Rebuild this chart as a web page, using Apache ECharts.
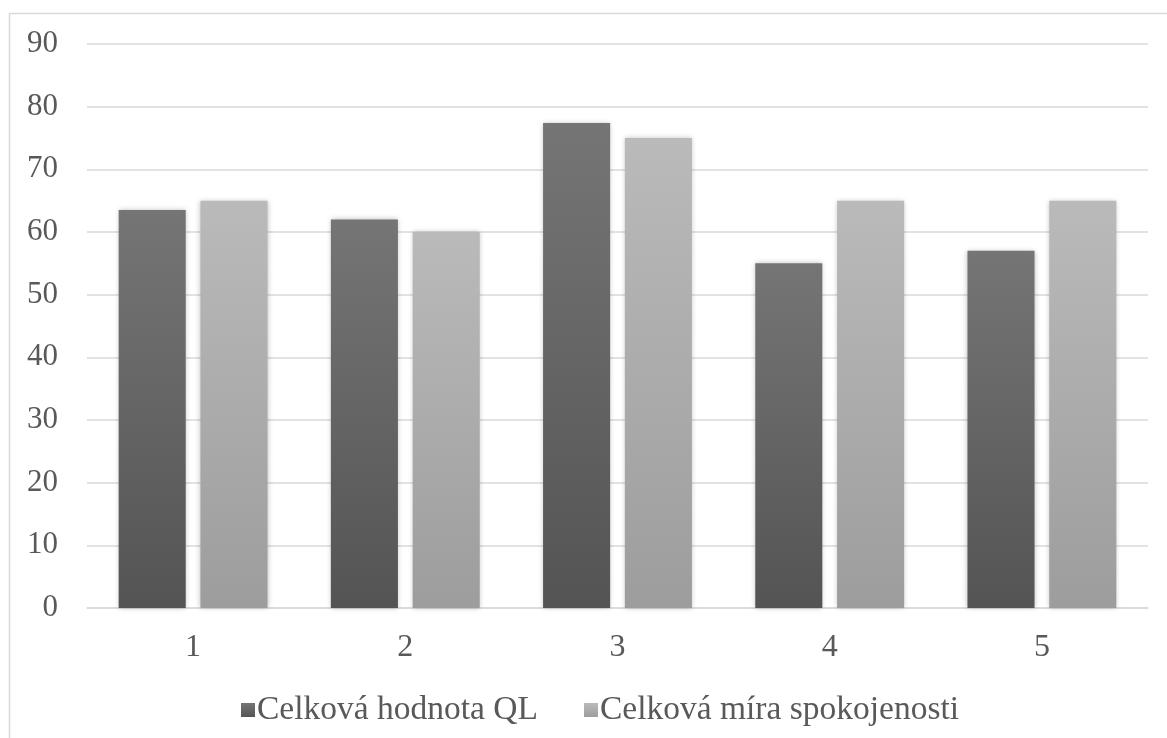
<!DOCTYPE html>
<html><head><meta charset="utf-8">
<script src="https://cdn.jsdelivr.net/npm/echarts@6/dist/echarts.min.js"></script>
<style>html,body{margin:0;padding:0;background:#fff}#c{width:1167px;height:738px}</style>
</head><body><div id="c"></div>
<script>
const categories = ['1', '2', '3', '4', '5'];
const seriesNames = ['Celková hodnota QL', 'Celková míra spokojenosti'];
const qlValues = [63.5, 62, 77.4, 55, 57];
const satisfactionValues = [65, 60, 75, 65, 65];
const yTicks = [0, 10, 20, 30, 40, 50, 60, 70, 80, 90];

const chart = echarts.init(document.getElementById('c'));
const font = '"Liberation Serif", "Times New Roman", Times, serif';
function grad(top, bottom) {
  return new echarts.graphic.LinearGradient(0, 0, 0, 1, [{offset: 0, color: top}, {offset: 1, color: bottom}]);
}
chart.setOption({
  animation: false,
  graphic: [{type: 'rect', shape: {x: 9.5, y: 13.5, width: 1170, height: 740}, style: {fill: 'none', stroke: '#d9d9d9', lineWidth: 1.5}, silent: true}],
  grid: {left: 87, right: 19, top: 44, bottom: 130},
  legend: {
    data: seriesNames, top: 688, left: 236, itemWidth: 14, itemHeight: 14, itemGap: 46,
    icon: 'rect',
    textStyle: {fontFamily: font, fontSize: 33.5, color: '#595959', padding: [0, 0, 0, -3]}
  },
  xAxis: {
    type: 'category', data: categories,
    axisLine: {lineStyle: {color: '#d9d9d9', width: 1.5}}, axisTick: {show: false},
    axisLabel: {fontFamily: font, fontSize: 32, color: '#595959', margin: 24}
  },
  yAxis: {
    type: 'value', min: yTicks[0], max: yTicks[yTicks.length - 1], interval: 10,
    axisLine: {show: false}, axisTick: {show: false},
    splitLine: {lineStyle: {color: '#d9d9d9', width: 1.5}},
    axisLabel: {fontFamily: font, fontSize: 31, color: '#595959', margin: 29}
  },
  series: [
    {name: seriesNames[0], type: 'bar', data: qlValues, barWidth: '31.6%', barGap: '22%',
     itemStyle: {color: grad('#757575', '#545454'), shadowColor: 'rgba(0,0,0,0.25)', shadowBlur: 5}},
    {name: seriesNames[1], type: 'bar', data: satisfactionValues, barWidth: '31.6%',
     itemStyle: {color: grad('#bababa', '#9d9d9d'), shadowColor: 'rgba(0,0,0,0.25)', shadowBlur: 5}}
  ]
});
</script></body></html>
